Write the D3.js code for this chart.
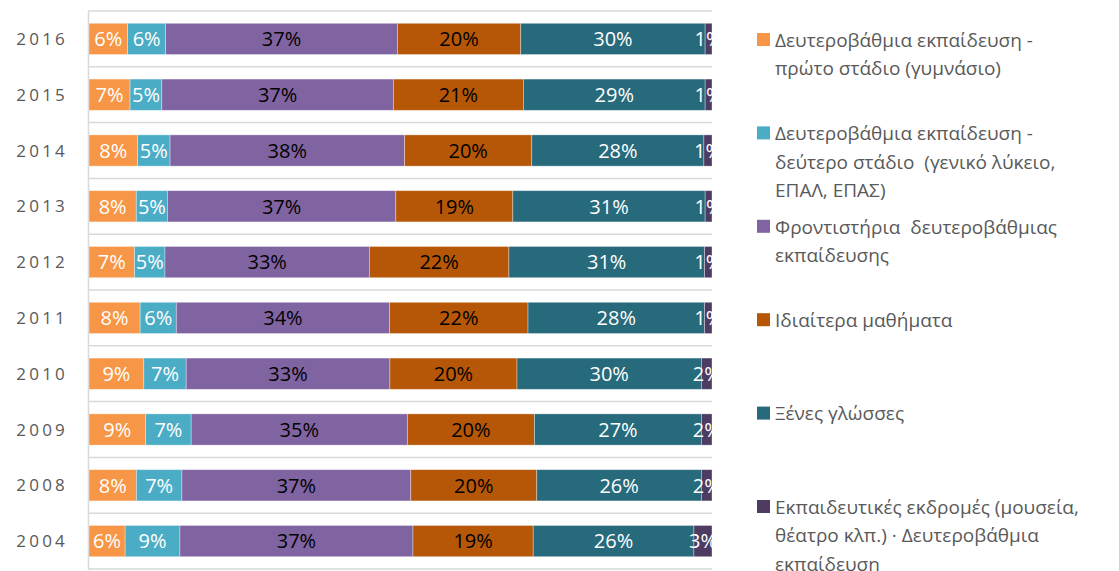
<!DOCTYPE html>
<html>
<head>
<meta charset="utf-8">
<script src="https://cdn.jsdelivr.net/npm/d3@7"></script>
<style>
  body { margin: 0; background: #fff; }
  svg { display: block; font-family: "Open Sans", sans-serif; }
  text { white-space: pre; }
</style>
</head>
<body>
<script>
const years = ['2016', '2015', '2014', '2013', '2012', '2011', '2010', '2009', '2008', '2004'];

const seriesKeys = ['gym', 'lyk', 'front', 'idiaitera', 'glosses', 'ekdromes'];

const seriesLines = [
  ['Δευτεροβάθμια εκπαίδευση -', 'πρώτο στάδιο (γυμνάσιο)'],
  ['Δευτεροβάθμια εκπαίδευση -', 'δεύτερο στάδιο  (γενικό λύκειο,', 'ΕΠΑΛ, ΕΠΑΣ)'],
  ['Φροντιστήρια  δευτεροβάθμιας', 'εκπαίδευσης'],
  ['Ιδιαίτερα μαθήματα'],
  ['Ξένες γλώσσες'],
  ['Εκπαιδευτικές εκδρομές (μουσεία,', 'θέατρο κλπ.) · Δευτεροβάθμια', 'εκπαίδευση']
];

const colors = ['#F79646', '#4BACC6', '#8064A2', '#B65708', '#276A7C', '#4D3B62'];
const labelColors = ['#fff', '#fff', '#000', '#000', '#fff', '#fff'];

// shares in % per year, one array per series (same order as years)
const gym       = [6.2, 6.6, 7.8, 7.6, 7.3, 8.2, 8.8, 9.1, 7.6, 5.8];
const lyk       = [6.1, 5.1, 5.2, 5.0, 4.9, 5.8, 6.8, 7.3, 7.3, 8.8];
const front     = [37.2, 37.2, 37.6, 36.7, 32.8, 34.2, 32.7, 34.7, 36.7, 37.4];
const idiaitera = [19.8, 20.9, 20.4, 18.8, 22.4, 22.2, 20.4, 20.4, 20.2, 19.3];
const glosses   = [29.6, 29.2, 27.6, 30.9, 31.4, 28.3, 29.6, 26.8, 26.4, 25.8];
const ekdromes  = [1.1, 1.1, 1.3, 1.1, 1.2, 1.2, 1.7, 1.7, 1.7, 2.9];

const table = years.map((y, i) => ({
  year: y,
  gym: gym[i],
  lyk: lyk[i],
  front: front[i],
  idiaitera: idiaitera[i],
  glosses: glosses[i],
  ekdromes: ekdromes[i]
}));

const width = 1119;
const height = 571;
const plot = { left: 89, right: 712, top: 11, bottom: 569 };

const svg = d3.select('body').append('svg')
  .attr('width', width)
  .attr('height', height);

const x = d3.scaleLinear()
  .domain([0, 1])
  .range([plot.left, plot.right]);

const y = d3.scaleBand()
  .domain(years)
  .range([plot.top, plot.bottom])
  .paddingInner(0.44)
  .paddingOuter(0.22);

const stacked = d3.stack()
  .keys(seriesKeys)
  .offset(d3.stackOffsetExpand)(table);

svg.append('defs').append('clipPath')
  .attr('id', 'plotClip')
  .append('rect')
    .attr('x', plot.left)
    .attr('y', 0)
    .attr('width', plot.right - plot.left)
    .attr('height', height);

// gridlines at the band boundaries
const gridYs = years.map(d => y(d) - y.step() * y.paddingInner() / 2).concat([plot.bottom]);
svg.append('g')
  .selectAll('line')
  .data(gridYs)
  .join('line')
    .attr('x1', plot.left - 1)
    .attr('x2', plot.right)
    .attr('y1', d => d)
    .attr('y2', d => d)
    .attr('stroke', '#D9D9D9')
    .attr('stroke-width', 1.5);

svg.append('line')
  .attr('x1', plot.left - 0.5)
  .attr('x2', plot.left - 0.5)
  .attr('y1', plot.top)
  .attr('y2', plot.bottom + 1)
  .attr('stroke', '#D9D9D9')
  .attr('stroke-width', 1.5);

const layer = svg.append('g')
  .selectAll('g')
  .data(stacked)
  .join('g')
    .attr('fill', (d, i) => colors[i]);

layer.selectAll('rect')
  .data(d => d)
  .join('rect')
    .attr('x', d => x(d[0]))
    .attr('width', d => x(d[1]) - x(d[0]))
    .attr('y', d => y(d.data.year))
    .attr('height', y.bandwidth())
    .attr('stroke', 'rgba(255,255,255,0.45)')
    .attr('stroke-width', 0.75);

const pct = d3.format('.0f');
const labels = svg.append('g')
  .attr('clip-path', 'url(#plotClip)')
  .selectAll('g')
  .data(stacked)
  .join('g')
    .attr('fill', (d, i) => labelColors[i]);

labels.selectAll('text')
  .data(d => d.map(p => ({ p: p, key: d.key })))
  .join('text')
    .attr('x', d => (x(d.p[0]) + x(d.p[1])) / 2)
    .attr('y', d => y(d.p.data.year) + y.bandwidth() / 2)
    .attr('dy', '0.36em')
    .attr('text-anchor', 'middle')
    .attr('font-size', 20)
    .text(d => pct(d.p.data[d.key]) + '%');

// year labels
svg.append('g')
  .selectAll('text')
  .data(years)
  .join('text')
    .attr('x', 68)
    .attr('y', d => y(d) + y.bandwidth() / 2)
    .attr('dy', '0.36em')
    .attr('text-anchor', 'end')
    .attr('font-size', 17)
    .attr('letter-spacing', 3.2)
    .attr('fill', '#595959')
    .text(d => d);

// legend
const legendY = d3.scaleLinear()
  .domain([0, seriesKeys.length - 1])
  .range([40, 507]);

const legend = svg.append('g')
  .selectAll('g')
  .data(seriesLines)
  .join('g')
    .attr('transform', (d, i) => `translate(757, ${legendY(i)})`);

legend.append('rect')
  .attr('x', 0)
  .attr('y', -7)
  .attr('width', 13)
  .attr('height', 13)
  .attr('fill', (d, i) => colors[i]);

legend.append('text')
  .attr('font-size', 19)
  .attr('fill', '#595959')
  .selectAll('tspan')
  .data(d => d)
  .join('tspan')
    .attr('x', 18)
    .attr('y', (d, i) => i * 28.5)
    .attr('dy', '0.36em')
    .text(d => d);
</script>
</body>
</html>
